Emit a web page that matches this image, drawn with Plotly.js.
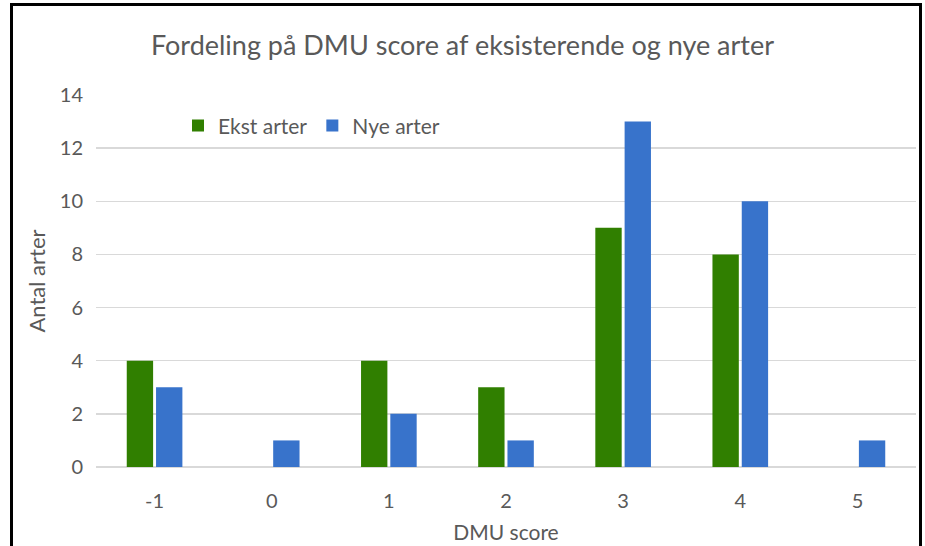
<!DOCTYPE html>
<html><head><meta charset="utf-8">
<script src="https://cdn.plot.ly/plotly-3.0.1.min.js"></script>
<style>
html,body{margin:0;padding:0;background:#fff;overflow:hidden}
#chart{width:925px;height:546px;position:absolute;left:0;top:0}
#frame{position:absolute;left:10px;top:3px;width:906px;height:600px;border:3px solid #000;pointer-events:none}
</style></head><body>
<div id="chart"></div><div id="frame"></div>
<script>
const categories = ["-1","0","1","2","3","4","5"];
const ekstArter = [4,0,4,3,9,8,0];
const nyeArter = [3,1,2,1,13,10,1];
const seriesNames = ["Ekst arter","Nye arter"];
const yTicks = [0,2,4,6,8,10,12,14];

const font = "Lato, 'Open Sans', sans-serif";
const data = [
  {type:"bar", x:categories, y:ekstArter, name:seriesNames[0], marker:{color:"#307f00"}},
  {type:"bar", x:categories, y:nyeArter, name:seriesNames[1], marker:{color:"#3873cb"}}
];
const layout = {
  width:925, height:546,
  margin:{l:96, r:9, t:95, b:79},
  paper_bgcolor:"#fff", plot_bgcolor:"#fff",
  font:{family:font, color:"#595959", size:20},
  title:{text:"Fordeling på DMU score af eksisterende og nye arter", font:{size:27, color:"#595959", family:font}, x:0.5, xanchor:"center", y:0.917, yanchor:"middle"},
  barmode:"group", bargap:0.5, bargroupgap:0.1,
  xaxis:{type:"category", tickfont:{size:20}, ticks:"", showgrid:false, zeroline:false, showline:false, ticklabelstandoff:20,
    title:{text:"DMU score", font:{size:21}, standoff:14}},
  yaxis:{range:[0,14], tickvals:yTicks, ticktext:yTicks.map(String), showgrid:true, gridcolor:"#d9d9d9", gridwidth:1.5,
    zeroline:true, zerolinecolor:"#d9d9d9", zerolinewidth:1.5, ticks:"", tickfont:{size:20}, ticklabelstandoff:12,
    title:{text:"Antal arter", font:{size:22}, standoff:8}},
  legend:{orientation:"h", x:0.1, xanchor:"left", y:0.917, yanchor:"middle", font:{size:21}, bgcolor:"rgba(0,0,0,0)", itemwidth:30},
  showlegend:true
};
Plotly.newPlot("chart", data, layout, {displayModeBar:false, staticPlot:true});
</script></body></html>
